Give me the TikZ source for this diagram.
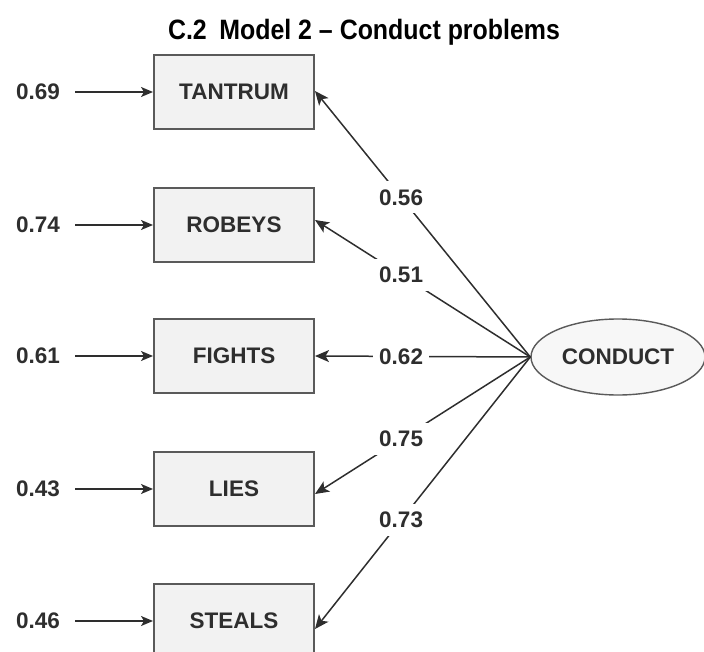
\documentclass[tikz,border=0pt]{standalone}
\usepackage{fontspec}
\setmainfont{Liberation Sans}
\usetikzlibrary{arrows.meta,shapes.geometric,calc}
\definecolor{ink}{HTML}{2E2E2E}
\definecolor{boxfill}{HTML}{F2F2F2}
\definecolor{boxline}{HTML}{5A5A5A}
\tikzset{
  lbl/.style={font=\fontsize{22.5}{26}\selectfont\bfseries, text=ink},
  obs/.style={lbl, draw=boxline, line width=2pt, fill=boxfill, minimum width=160pt, minimum height=74pt, inner sep=0pt},
  lat/.style={lbl, ellipse, draw=boxline, line width=1.4pt, fill=boxfill!60!white, minimum width=174pt, minimum height=76pt, inner sep=0pt},
  err/.style={lbl, inner sep=0pt},
  conn/.style={draw=ink, line width=1.5pt, -{Stealth[length=14pt,width=12pt,inset=3.5pt]}},
  errarrow/.style={draw=ink, line width=1.5pt, -{Stealth[length=12pt,width=10pt,inset=3pt]}},
  coef/.style={lbl, fill=white, inner xsep=6pt, inner ysep=8pt},
}
\begin{document}
\begin{tikzpicture}[x=1pt,y=-1pt]
\useasboundingbox (0,0) rectangle (704,652);
\clip (0,0) rectangle (704,652);
\node[font=\fontsize{28}{32}\selectfont\bfseries, text=black, xscale=0.89, transform shape] (title) at (364,32) {C.2\hspace{0.5em}Model 2 -- Conduct problems};

\node[obs] (tantrum) at (234,92) {TANTRUM};
\node[obs] (robeys) at (234,225) {ROBEYS};
\node[obs] (fights) at (234,356) {FIGHTS};
\node[obs] (lies) at (234,489) {LIES};
\node[obs] (steals) at (234,621) {STEALS};

\node[lat] (conduct) at (618,357) {CONDUCT};

\node[err] (e1) at (38,92) {0.69};
\node[err] (e2) at (38,225) {0.74};
\node[err] (e3) at (38,356) {0.61};
\node[err] (e4) at (38,489) {0.43};
\node[err] (e5) at (38,621) {0.46};

\foreach \e/\b in {e1/tantrum,e2/robeys,e3/fights,e4/lies,e5/steals}{
  \draw[errarrow] ([xshift=15pt]\e.east) -- (\b.west);
}

\coordinate (c0) at (conduct.west);
\draw[conn] (c0) -- node[coef, pos=0.6] {0.56} ([yshift=1pt]tantrum.east);
\draw[conn] (c0) -- node[coef, pos=0.6] {0.51} ([yshift=5pt]robeys.east);
\draw[conn] (c0) -- node[coef, pos=0.6] {0.62} (fights.east);
\draw[conn] (c0) -- node[coef, pos=0.6] {0.75} ([yshift=-5pt]lies.east);
\draw[conn] (c0) -- node[coef, pos=0.6] {0.73} ([yshift=-8pt]steals.east);
\end{tikzpicture}
\end{document}
